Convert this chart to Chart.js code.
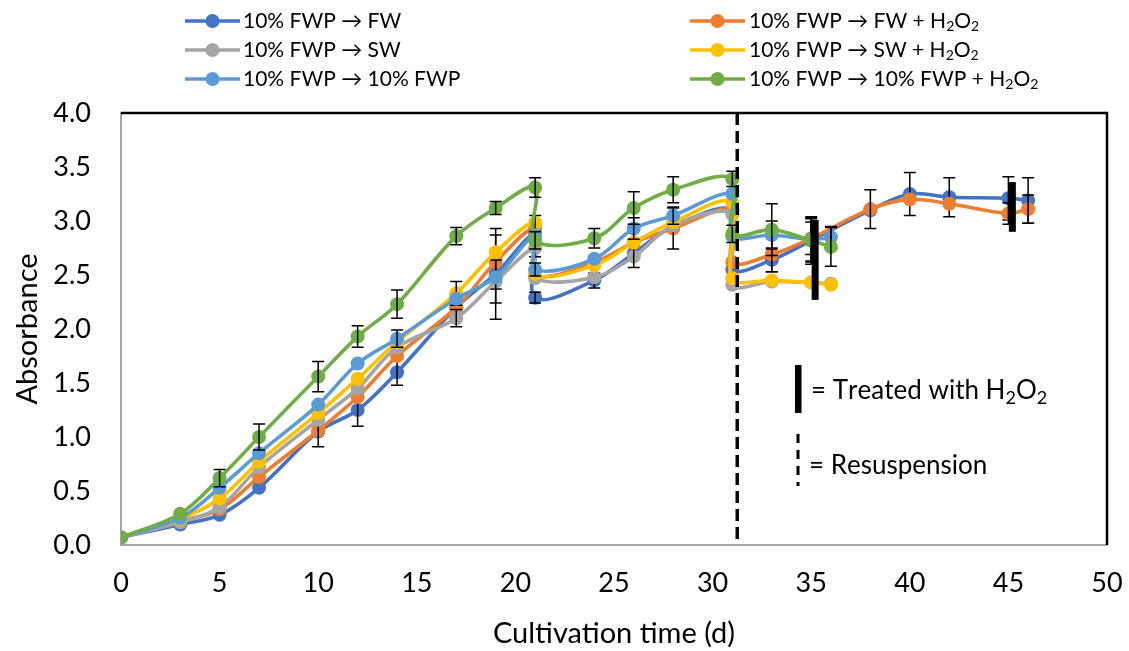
<!DOCTYPE html>
<html><head><meta charset="utf-8">
<script src="https://cdn.jsdelivr.net/npm/chart.js@4/dist/chart.umd.min.js"></script>
<style>html,body{margin:0;padding:0;background:#fff;overflow:hidden}#wrap{width:1129px;height:651px;position:relative}</style>
</head><body><div id="wrap"><canvas id="c"></canvas></div>
<script>
const FONT = 'Lato, "Open Sans", "DejaVu Sans", sans-serif';

// ---- data ----
const seriesNames = [
  '10% FWP → FW',
  '10% FWP → FW + H₂O₂',
  '10% FWP → SW',
  '10% FWP → SW + H₂O₂',
  '10% FWP → 10% FWP',
  '10% FWP → 10% FWP + H₂O₂'
];
const daysShort = [0,3,5,7,10,12,14,17,19,21,21,24,26,28,31,31,33,35,36];
const daysLong  = [0,3,5,7,10,12,14,17,19,21,21,24,26,28,31,31,33,35,38,40,42,45,46];

const fwValues      = [0.07,0.19,0.28,0.53,1.05,1.25,1.60,2.20,2.51,2.87,2.29,2.45,2.70,2.95,3.10,2.55,2.64,2.82,3.10,3.25,3.22,3.21,3.19];
const fwErr         = [0,0,0,0,0,0.15,0.12,0,0.42,0.10,0.05,0.07,0,0,0,0,0.11,0.20,0,0.20,0.18,0.20,0.21];
const fwH2O2Values  = [0.07,0.22,0.33,0.63,1.06,1.37,1.75,2.20,2.62,2.93,2.50,2.62,2.80,2.93,3.10,2.62,2.69,2.84,3.11,3.20,3.16,3.07,3.11];
const fwH2O2Err     = [0,0,0,0,0.15,0,0,0,0.25,0.08,0,0,0,0.19,0,0,0.16,0.15,0.18,0,0,0.10,0.13];
const swValues      = [0.07,0.21,0.35,0.72,1.16,1.45,1.83,2.10,2.44,2.75,2.47,2.48,2.67,2.96,3.06,2.41,2.44,2.43,2.42];
const swErr         = [0,0,0,0,0,0,0,0.08,0.20,0.08,0,0,0.10,0,0,0,0,0,0];
const swH2O2Values  = [0.07,0.24,0.43,0.77,1.22,1.54,1.88,2.33,2.71,2.98,2.51,2.59,2.80,2.99,3.17,2.47,2.45,2.43,2.41];
const swH2O2Err     = [0,0,0,0,0,0,0,0.11,0,0.07,0,0,0,0,0,0,0,0,0];
const fwpValues     = [0.07,0.25,0.53,0.85,1.30,1.68,1.91,2.28,2.48,2.87,2.55,2.65,2.93,3.05,3.25,2.86,2.87,2.83,2.85];
const fwpErr        = [0,0,0,0,0,0,0.08,0,0,0,0.06,0,0.10,0.08,0,0,0.13,0.20,0.10];
const fwpH2O2Values = [0.07,0.29,0.62,1.00,1.56,1.93,2.23,2.86,3.12,3.31,2.82,2.84,3.12,3.29,3.39,2.88,2.92,2.82,2.76];
const fwpH2O2Err    = [0,0,0.08,0.12,0.14,0.10,0.13,0.08,0.06,0.09,0.08,0.09,0.15,0.12,0.07,0.08,0.24,0.22,0.18];

const xTicks = [0,5,10,15,20,25,30,35,40,45,50];
const yTicks = [0,0.5,1,1.5,2,2.5,3,3.5,4];

const resuspensionDay = 31.25;
const h2o2Marks = [ {day:35.2, low:2.27, high:3.01}, {day:45.2, low:2.90, high:3.36} ];

const colors = ['#4472C4','#ED7D31','#A5A5A5','#FFC000','#5B9BD5','#70AD47'];
const seriesX = [daysLong, daysLong, daysShort, daysShort, daysShort, daysShort];
const seriesY = [fwValues, fwH2O2Values, swValues, swH2O2Values, fwpValues, fwpH2O2Values];
const seriesE = [fwErr, fwH2O2Err, swErr, swH2O2Err, fwpErr, fwpH2O2Err];

const datasets = seriesNames.map((name,i)=>({
  label: name,
  data: seriesX[i].map((d,k)=>({x:d, y:seriesY[i][k]})),
  errors: seriesE[i],
  borderColor: colors[i],
  backgroundColor: colors[i],
  pointBackgroundColor: colors[i],
  pointBorderColor: colors[i],
  pointBorderWidth: 0,
  pointRadius: 7,
  pointHoverRadius: 7,
  borderWidth: 3.6,
  tension: 0.35,
  order: 6 - i
}));

function richText(ctx, text, x, y, size, color){
  ctx.save();
  ctx.fillStyle = color || '#000';
  ctx.textBaseline = 'middle';
  ctx.textAlign = 'left';
  let cx = x;
  for (const ch of text){
    if (ch === '₂'){
      ctx.font = Math.round(size*0.68)+'px '+FONT;
      ctx.fillText('2', cx, y + size*0.28);
      cx += ctx.measureText('2').width;
    } else {
      ctx.font = size+'px '+FONT;
      ctx.fillText(ch, cx, y);
      cx += ctx.measureText(ch).width;
    }
  }
  ctx.restore();
}

const overlay = {
  id:'overlay',
  afterDatasetDraw(chart, args){
    const {ctx, scales:{x,y}} = chart;
    const ds = chart.data.datasets[args.index];
    ctx.save();
    ctx.strokeStyle = '#000';
    ctx.lineWidth = 1.5;
    ds.data.forEach((p,k)=>{
      const e = ds.errors[k];
      if (!e) return;
      const px = x.getPixelForValue(p.x);
      const y1 = y.getPixelForValue(p.y + e), y2 = y.getPixelForValue(p.y - e);
      ctx.beginPath();
      ctx.moveTo(px,y1); ctx.lineTo(px,y2);
      ctx.moveTo(px-6,y1); ctx.lineTo(px+6,y1);
      ctx.moveTo(px-6,y2); ctx.lineTo(px+6,y2);
      ctx.stroke();
    });
    ctx.restore();
  },
  afterDatasetsDraw(chart){
    const {ctx, chartArea:a, scales:{x,y}} = chart;
    ctx.save();
    ctx.fillStyle = '#000';
    h2o2Marks.forEach(m=>{
      const px = x.getPixelForValue(m.day);
      const t = y.getPixelForValue(m.high), b = y.getPixelForValue(m.low);
      ctx.fillRect(px-3.5, t, 7, b-t);
    });
    const rx = x.getPixelForValue(resuspensionDay);
    ctx.strokeStyle = '#000';
    ctx.setLineDash([12,6]);
    ctx.lineWidth = 3.5;
    ctx.beginPath(); ctx.moveTo(rx, a.top); ctx.lineTo(rx, a.bottom); ctx.stroke();
    ctx.setLineDash([]);
    ctx.lineWidth = 2.5;
    ctx.beginPath();
    ctx.moveTo(a.left, a.top); ctx.lineTo(a.right, a.top); ctx.lineTo(a.right, a.bottom);
    ctx.stroke();
    ctx.restore();
  },
  afterDraw(chart){
    const ctx = chart.ctx;
    const cols = [{ls:185, le:240, tx:243},{ls:690, le:745, tx:749}];
    const rows = [21, 50, 79];
    chart.data.datasets.forEach((ds,i)=>{
      const col = cols[i%2], ry = rows[Math.floor(i/2)];
      ctx.save();
      ctx.strokeStyle = ds.borderColor; ctx.lineWidth = 3.6;
      ctx.beginPath(); ctx.moveTo(col.ls, ry); ctx.lineTo(col.le, ry); ctx.stroke();
      ctx.fillStyle = ds.borderColor;
      ctx.beginPath(); ctx.arc((col.ls+col.le)/2, ry, 7, 0, Math.PI*2); ctx.fill();
      ctx.restore();
      richText(ctx, ds.label, col.tx, ry, 21, '#000');
    });
    ctx.save();
    ctx.fillStyle = '#000';
    ctx.fillRect(795, 365, 6.5, 48);
    ctx.strokeStyle = '#000'; ctx.lineWidth = 3;
    ctx.setLineDash([9,7]);
    ctx.beginPath(); ctx.moveTo(798, 434); ctx.lineTo(798, 486); ctx.stroke();
    ctx.restore();
    richText(ctx, '= Treated with H₂O₂', 811, 391, 26, '#000');
    richText(ctx, '= Resuspension', 809, 466, 26, '#000');
  }
};

new Chart(document.getElementById('c'), {
  type:'line',
  data:{datasets},
  options:{
    responsive:true, maintainAspectRatio:false, animation:false,
    devicePixelRatio:1,
    layout:{padding:{top:113, right:22, left:0, bottom:0}},
    plugins:{legend:{display:false}, tooltip:{enabled:false}},
    scales:{
      x:{type:'linear', min:0, max:50,
        afterBuildTicks(s){ s.ticks = xTicks.map(v=>({value:v})); },
        afterFit(s){ s.height = 106; s.paddingLeft = 0; s.paddingRight = 0; },
        grid:{display:false, drawTicks:false},
        border:{display:true, color:'#A6A6A6', width:2},
        ticks:{color:'#000', font:{family:FONT, size:27}, padding:22, maxRotation:0},
        title:{display:true, text:'Cultivation time (d)', color:'#000', font:{family:FONT, size:29}, padding:{bottom:0}}
      },
      y:{min:0, max:4,
        afterBuildTicks(s){ s.ticks = yTicks.map(v=>({value:v})); },
        afterFit(s){ s.width = 121; s.paddingTop = 0; s.paddingBottom = 0; },
        grid:{display:false, drawTicks:false},
        border:{display:true, color:'#A6A6A6', width:2},
        ticks:{color:'#000', font:{family:FONT, size:27}, padding:30, callback:v=>Number(v).toFixed(1)},
        title:{display:true, text:'Absorbance', color:'#000', font:{family:FONT, size:29}, padding:{top:10}}
      }
    }
  },
  plugins:[overlay]
});
</script></body></html>
